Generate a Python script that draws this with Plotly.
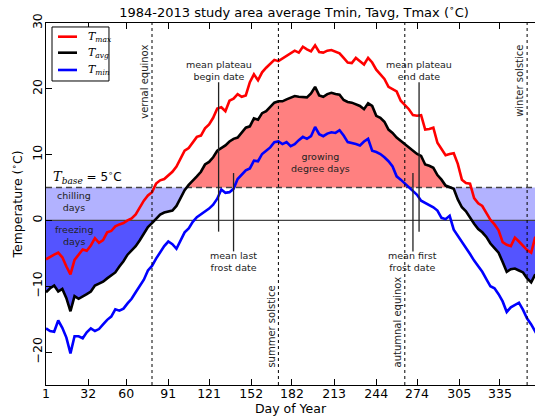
import plotly.graph_objects as go

# ---------------- data ----------------
DAYS = [1, 4, 7, 10, 13, 16, 19, 22, 25, 28, 31, 34, 37, 40, 43, 46, 49, 52, 55, 58,
        61, 64, 67, 70, 73, 76, 79, 82, 85, 88, 91, 94, 97, 100, 103, 106, 109, 112, 115, 118,
        121, 124, 127, 130, 133, 136, 139, 142, 145, 148, 151, 154, 157, 160, 163, 166, 169, 172, 175, 178,
        181, 184, 187, 190, 193, 196, 199, 202, 205, 208, 211, 214, 217, 220, 223, 226, 229, 232, 235, 238,
        241, 244, 247, 250, 253, 256, 259, 262, 265, 268, 271, 274, 277, 280, 283, 286, 289, 292, 295, 298,
        301, 304, 307, 310, 313, 316, 319, 322, 325, 328, 331, 334, 337, 340, 343, 346, 349, 352, 355, 358,
        361, 364, 366]

TMAX = [-5.9, -5.5, -5.2, -4.9, -5.6, -7.0, -8.2, -6.0, -5.2, -4.4, -4.6, -3.8, -2.7, -3.4, -3.0, -1.8, -1.6, -0.9, -0.6, -0.4,
        0.0, 0.3, 0.9, 2.0, 3.0, 3.8, 4.3, 5.6, 6.1, 6.3, 6.8, 7.4, 8.2, 9.5, 10.6, 11.0, 11.8, 12.7, 12.9, 14.0,
        14.6, 15.6, 17.0, 17.2, 16.6, 18.2, 18.5, 19.2, 18.8, 19.0, 21.0, 22.2, 21.3, 22.5, 23.2, 23.8, 24.4, 24.2, 24.6, 24.9,
        25.3, 25.8, 25.5, 26.4, 26.0, 25.7, 26.6, 25.6, 25.5, 25.8, 25.9, 25.6, 25.4, 24.7, 24.0, 23.9, 24.7, 24.2, 23.7, 24.7,
        24.0, 22.9, 22.2, 21.5, 20.3, 20.0, 19.6, 18.2, 17.6, 16.9, 16.0, 15.9, 16.0, 13.8, 13.9, 14.1, 11.8, 10.8, 9.9, 10.1,
        10.2, 8.6, 6.2, 5.7, 5.6, 3.4, 2.6, 2.2, 1.2, 0.1, -0.6, -1.5, -3.3, -3.7, -3.9, -2.6, -3.2, -3.9, -4.5, -4.9,
        -2.5, -5.5, -3.5]

TAVG = [-10.9, -10.3, -9.9, -10.8, -10.4, -11.8, -13.8, -11.5, -11.9, -11.6, -11.2, -10.8, -9.9, -9.6, -9.3, -8.8, -8.3, -7.9, -7.0, -6.2,
        -5.2, -4.6, -3.9, -3.0, -2.1, -1.0, -0.4, 0.3, 0.9, 1.2, 1.4, 1.5, 2.2, 3.3, 4.6, 5.4, 6.0, 6.7, 7.4, 8.5,
        8.9, 9.6, 10.6, 11.0, 11.4, 12.0, 12.4, 12.6, 13.3, 14.1, 14.3, 15.5, 15.3, 16.3, 16.6, 17.2, 17.9, 18.1, 18.1, 18.4,
        18.7, 18.9, 18.8, 18.7, 18.7, 19.3, 20.3, 19.0, 18.8, 19.2, 19.4, 19.2, 19.1, 18.3, 18.0, 17.9, 17.7, 17.4, 16.9, 17.8,
        17.4, 15.9, 15.6, 15.0, 13.8, 13.3, 12.6, 12.1, 11.6, 11.0, 10.5, 10.1, 9.8, 8.5, 8.3, 8.0, 6.9, 6.2, 5.3, 5.1,
        4.8, 3.2, 2.0, 1.4, 0.4, -0.5, -1.3, -1.8, -2.5, -3.5, -4.2, -4.9, -6.3, -7.8, -7.4, -7.3, -7.6, -7.9, -8.8, -9.4,
        -8.2, -9.8, -9.0]

TMIN = [-16.4, -16.8, -16.9, -15.2, -16.3, -17.8, -20.2, -17.6, -17.6, -17.9, -17.0, -16.4, -16.8, -16.5, -15.8, -15.1, -14.6, -13.5, -13.7, -13.4,
        -12.6, -11.9, -10.9, -9.9, -9.0, -7.6, -6.9, -5.8, -4.9, -3.9, -3.2, -3.6, -4.3, -3.1, -1.8, -1.2, -0.2, 0.5, 0.9, 1.4,
        1.8, 2.4, 3.3, 4.7, 4.2, 4.3, 4.8, 6.3, 6.9, 7.6, 7.9, 9.1, 9.0, 10.1, 10.6, 11.1, 11.9, 12.0, 11.6, 11.9,
        11.3, 11.6, 12.2, 12.7, 12.4, 12.8, 14.2, 13.1, 12.8, 13.2, 13.4, 13.3, 13.7, 12.9, 11.9, 11.8, 11.6, 11.4, 12.0, 12.4,
        10.6, 10.4, 10.1, 9.6, 9.0, 8.2, 6.7, 6.2, 5.6, 5.0, 4.4, 3.9, 3.0, 2.7, 2.4, 2.0, 1.5, 0.4, 0.2, 0.7,
        -1.4, -2.3, -3.1, -4.0, -5.1, -6.1, -7.0, -7.8, -8.9, -10.0, -10.3, -11.2, -12.3, -13.9, -13.2, -12.8, -12.5, -13.6, -14.9, -15.8,
        -16.9, -16.0, -16.5]

SERIES_KEYS = ["max", "avg", "min"]
SERIES_COLORS = ["#ff0000", "#000000", "#0000ff"]

T_BASE = 5
T_FREEZE = 0

TICK_DAYS = [1, 32, 60, 91, 121, 152, 182, 213, 244, 274, 305, 335]
TICK_LABELS = [str(d) for d in TICK_DAYS]
Y_TICKS = [-20, -10, 0, 10, 20, 30]

SEASON_DAYS = [79, 172, 265, 355]
SEASON_NAMES = ["vernal equinox", "summer solstice", "autumnal equinox", "winter solstice"]
SEASON_AT_TOP = [True, False, False, True]

PLATEAU_DAYS = [128, 275.5]            # mean plateau begin / end date
PLATEAU_NAMES = ["mean plateau<br>begin date", "mean plateau<br>end date"]
FROST_DAYS = [139, 271]                # mean last / first frost date
FROST_NAMES = ["mean last<br>frost date", "mean first<br>frost date"]

X_RANGE = [1, 360.8]                   # the picture is cut just past day 360
Y_RANGE = [-25, 30]

FONT = "DejaVu Sans"
SERIF = "DejaVu Serif"
INK = "#222222"


def t_label(sub, size, subsize):
    return (f"<span style='font-family:{SERIF};font-size:{size}px'><i>T</i></span>"
            f"<sub><span style='font-family:{SERIF};font-size:{subsize}px'><i>{sub}</i></span></sub>")


# ---------------- helpers ----------------
def with_crossings(xs, ys, levels):
    """Insert the points where the series crosses each level (linear)."""
    ox, oy = [xs[0]], [ys[0]]
    for i in range(1, len(xs)):
        x0, y0, x1, y1 = xs[i - 1], ys[i - 1], xs[i], ys[i]
        cr = []
        for lv in levels:
            if (y0 - lv) * (y1 - lv) < 0:
                t = (lv - y0) / (y1 - y0)
                cr.append((x0 + t * (x1 - x0), lv))
        cr.sort()
        for cx, cy in cr:
            ox.append(cx)
            oy.append(cy)
        ox.append(x1)
        oy.append(y1)
    return ox, oy


xa, ya = with_crossings(DAYS, TAVG, [T_FREEZE, T_BASE])
n = len(xa)

fig = go.Figure()

# growing degree days (Tavg above base)
gdd_top = [max(v, T_BASE) for v in ya]
fig.add_trace(go.Scatter(x=xa + xa[::-1], y=gdd_top + [T_BASE] * n,
                         fill="toself", fillcolor="rgb(255,128,128)",
                         line=dict(width=0), mode="lines", hoverinfo="skip",
                         showlegend=False))
# chilling days (between 0 and base)
chill_bot = [min(max(v, T_FREEZE), T_BASE) for v in ya]
fig.add_trace(go.Scatter(x=xa + xa[::-1], y=[T_BASE] * n + chill_bot[::-1],
                         fill="toself", fillcolor="rgb(178,178,255)",
                         line=dict(width=0), mode="lines", hoverinfo="skip",
                         showlegend=False))
# freezing days (below 0)
frz_bot = [min(v, T_FREEZE) for v in ya]
fig.add_trace(go.Scatter(x=xa + xa[::-1], y=[T_FREEZE] * n + frz_bot[::-1],
                         fill="toself", fillcolor="rgb(84,84,255)",
                         line=dict(width=0), mode="lines", hoverinfo="skip",
                         showlegend=False))

# reference levels
fig.add_trace(go.Scatter(x=X_RANGE, y=[T_BASE, T_BASE], mode="lines",
                         line=dict(color="#444444", width=1.6, dash="6px,4px"),
                         hoverinfo="skip", showlegend=False))
fig.add_trace(go.Scatter(x=X_RANGE, y=[T_FREEZE, T_FREEZE], mode="lines",
                         line=dict(color="#444444", width=1.3),
                         hoverinfo="skip", showlegend=False))

# temperature series
for vals, key, col in zip([TMAX, TAVG, TMIN], SERIES_KEYS, SERIES_COLORS):
    fig.add_trace(go.Scatter(x=DAYS, y=vals, mode="lines", name="T" + key,
                             line=dict(color=col, width=2.6), showlegend=False))

shapes = []
annotations = []

# equinoxes / solstices
for d, name, top in zip(SEASON_DAYS, SEASON_NAMES, SEASON_AT_TOP):
    shapes.append(dict(type="line", xref="x", yref="paper", x0=d, x1=d, y0=0, y1=1,
                       line=dict(color="#000000", width=1, dash="dot"), layer="above"))
    annotations.append(dict(x=d, y=27.0 if top else -22.6, xref="x", yref="y",
                            text=name, textangle=-90, showarrow=False,
                            xanchor="center", yanchor="top" if top else "bottom",
                            xshift=-7, font=dict(family=FONT, size=10, color=INK)))

# plateau dates
for d, name in zip(PLATEAU_DAYS, PLATEAU_NAMES):
    shapes.append(dict(type="line", xref="x", yref="y", x0=d, x1=d, y0=21.0, y1=-1.7,
                       line=dict(color=INK, width=1.3), layer="above"))
    annotations.append(dict(x=d, y=22.8, xref="x", yref="y", text=name, showarrow=False,
                            xanchor="center", yanchor="middle",
                            font=dict(family=FONT, size=9.5, color=INK)))

# frost dates
for d, name in zip(FROST_DAYS, FROST_NAMES):
    shapes.append(dict(type="line", xref="x", yref="y", x0=d, x1=d, y0=7.2, y1=-4.7,
                       line=dict(color=INK, width=1.3), layer="above"))
    annotations.append(dict(x=d, y=-6.3, xref="x", yref="y", text=name, showarrow=False,
                            xanchor="center", yanchor="middle",
                            font=dict(family=FONT, size=9.5, color=INK)))

# region labels
region = [
    dict(x=21.5, y=2.9, text="chilling<br>days"),
    dict(x=21.5, y=-2.3, text="freezing<br>days"),
    dict(x=203, y=8.8, text="growing<br>degree days"),
]
for a in region:
    a.update(xref="x", yref="y", showarrow=False, xanchor="center", yanchor="middle",
             font=dict(family=FONT, size=9.5, color=INK))
annotations += region

annotations.append(dict(x=4.4, y=6.6, xref="x", yref="y", showarrow=False,
                        xanchor="left", yanchor="middle",
                        text=t_label("base", 13, 9) + " = 5<sup>∘</sup>C",
                        font=dict(family=FONT, size=12, color="#000000")))

# legend box (paper coordinates of the plotting area, which is 489 x 362 px)
LEG_X0, LEG_X1, LEG_Y0, LEG_Y1 = 0.0123, 0.1288, 0.8398, 0.9890
LEG_ROWS = [0.9622, 0.9180, 0.8702]
shapes.append(dict(type="rect", xref="paper", yref="paper", x0=LEG_X0, x1=LEG_X1, y0=LEG_Y0, y1=LEG_Y1,
                   line=dict(color="#000000", width=1), fillcolor="white", layer="above"))
for ry, key, col in zip(LEG_ROWS, SERIES_KEYS, SERIES_COLORS):
    shapes.append(dict(type="line", xref="paper", yref="paper", x0=0.0245, x1=0.0634, y0=ry, y1=ry,
                       line=dict(color=col, width=2.6), layer="above"))
    annotations.append(dict(x=0.0818, y=ry, xref="paper", yref="paper", text=t_label(key, 11, 7.5),
                            showarrow=False, xanchor="left", yanchor="middle",
                            font=dict(family=SERIF, size=11, color="#000000")))

fig.update_layout(
    width=535, height=420,
    margin=dict(l=46, r=0, t=23, b=35),
    paper_bgcolor="white", plot_bgcolor="white",
    font=dict(family=FONT, size=12, color="#000000"),
    title=dict(text="1984-2013 study area average Tmin, Tavg, Tmax (<sup>∘</sup>C)",
               x=294 / 535, xanchor="center", y=1 - 12 / 420, yanchor="middle",
               font=dict(family=FONT, size=13, color="#000000")),
    showlegend=False,
    hovermode=False,
    xaxis=dict(range=X_RANGE, tickmode="array", tickvals=TICK_DAYS, ticktext=TICK_LABELS,
               ticks="inside", ticklen=6, tickcolor="#000000", tickwidth=1,
               showline=True, linecolor="#000000", linewidth=1, mirror="ticks",
               showgrid=False, zeroline=False, automargin=False, ticklabelstandoff=-3,
               tickfont=dict(family=FONT, size=12.5),
               title=dict(text="Day of Year", font=dict(family=FONT, size=12.5), standoff=3)),
    yaxis=dict(range=Y_RANGE, tickmode="array", tickvals=Y_TICKS,
               ticks="inside", ticklen=6, tickcolor="#000000", tickwidth=1, tickangle=-90,
               showline=True, linecolor="#000000", linewidth=1, mirror=False,
               showgrid=False, zeroline=False, automargin=False, ticklabelstandoff=-2,
               tickfont=dict(family=FONT, size=12.5),
               title=dict(text="Temperature (<sup>∘</sup>C)", font=dict(family=FONT, size=12.5), standoff=4)),
    shapes=shapes,
    annotations=annotations,
)

fig.write_html("out.html", config={"displayModeBar": False, "staticPlot": True},
               post_script="document.body.style.margin='0px';document.body.style.padding='0px';")
